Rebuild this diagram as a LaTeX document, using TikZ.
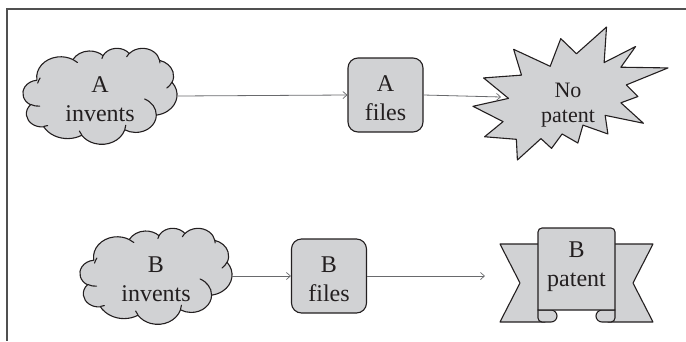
\documentclass[tikz,border=0pt]{standalone}
\usepackage{fontspec}
\setmainfont{Liberation Serif}
\usetikzlibrary{arrows.meta}
\definecolor{shfill}{RGB}{209,210,212}
\definecolor{shline}{RGB}{35,31,32}
\definecolor{arrgray}{RGB}{105,106,109}
\definecolor{framegray}{RGB}{80,80,80}
% OOXML arcTo (visual angles) -> TikZ parametric angles
\newcommand\ooarc[5]{%
  \pgfmathsetmacro\tmpA{atan2(#2*sin(#4),#3*cos(#4))}%
  \pgfmathsetmacro\tmpB{atan2(#2*sin(#4+#5),#3*cos(#4+#5))}%
  \pgfmathsetmacro\tmpD{mod(\tmpB-\tmpA+720,360)}%
  \expandafter\xdef\csname oo#1s\endcsname{\tmpA}%
  \expandafter\xdef\csname oo#1d\endcsname{\tmpD}%
}
\ooarc{A}{67.53}{91.90}{-190.4875}{123.7805}
\ooarc{B}{53.33}{72.67}{-144.1024}{89.9452}
\ooarc{C}{43.65}{59.45}{-145.8079}{99.7230}
\ooarc{D}{48.57}{65.95}{-130.9861}{117.2417}
\ooarc{E}{53.33}{72.73}{-78.7089}{109.0269}
\ooarc{F}{67.75}{92.20}{-46.2673}{130.2690}
\ooarc{G}{57.85}{78.67}{0.6250}{114.0333}
\ooarc{H}{67.52}{92.15}{22.4516}{115.1726}
\ooarc{I}{77.20}{105.43}{66.2426}{75.7110}
\ooarc{J}{43.60}{59.18}{-274.9421}{146.7356}
\ooarc{K}{43.45}{59.45}{-246.8285}{152.5189}
\ooarc{cA}{43.45}{59.45}{86.7420}{26.4295}
\ooarc{cB}{43.60}{59.18}{73.6105}{11.4475}
\ooarc{cC}{67.52}{92.15}{137.6242}{14.0811}
\ooarc{cD}{67.52}{92.15}{6.4533}{15.9984}
\ooarc{cE}{57.85}{78.67}{-70.2924}{70.9174}
\ooarc{cF}{53.33}{72.73}{30.3180}{27.7515}
\ooarc{cG}{48.57}{65.95}{-13.7443}{14.8589}
\ooarc{cH}{48.57}{65.95}{-149.1815}{18.1954}
\ooarc{cI}{43.65}{59.45}{-163.4943}{17.6864}
\ooarc{cJ}{67.53}{91.90}{-66.7070}{12.3194}
\ooarc{cK}{67.53}{91.90}{-161.1856}{18.7924}
\newcommand\cloudshape{%
  \draw[shp] (39.00,143.70)
    arc[x radius=67.53,y radius=91.90,start angle=\ooAs,delta angle=\ooAd]
    arc[x radius=53.33,y radius=72.67,start angle=\ooBs,delta angle=\ooBd]
    arc[x radius=43.65,y radius=59.45,start angle=\ooCs,delta angle=\ooCd]
    arc[x radius=48.57,y radius=65.95,start angle=\ooDs,delta angle=\ooDd]
    arc[x radius=53.33,y radius=72.73,start angle=\ooEs,delta angle=\ooEd]
    arc[x radius=67.75,y radius=92.20,start angle=\ooFs,delta angle=\ooFd]
    arc[x radius=57.85,y radius=78.67,start angle=\ooGs,delta angle=\ooGd]
    arc[x radius=67.52,y radius=92.15,start angle=\ooHs,delta angle=\ooHd]
    arc[x radius=77.20,y radius=105.43,start angle=\ooIs,delta angle=\ooId]
    arc[x radius=43.60,y radius=59.18,start angle=\ooJs,delta angle=\ooJd]
    arc[x radius=43.45,y radius=59.45,start angle=\ooKs,delta angle=\ooKd]
    -- cycle;
  \draw[crease]
    (46.93,261.77) arc[x radius=43.45,y radius=59.45,start angle=\oocAs,delta angle=\oocAd]
    (69.28,348.99) arc[x radius=43.60,y radius=59.18,start angle=\oocBs,delta angle=\oocBd]
    (164.78,390.90) arc[x radius=67.52,y radius=92.15,start angle=\oocCs,delta angle=\oocCd]
    (288.27,347.51) arc[x radius=67.52,y radius=92.15,start angle=\oocDs,delta angle=\oocDd]
    (341.29,229.54) arc[x radius=57.85,y radius=78.67,start angle=\oocEs,delta angle=\oocEd]
    (417.98,153.54) arc[x radius=53.33,y radius=72.73,start angle=\oocFs,delta angle=\oocFd]
    (383.24,54.26) arc[x radius=48.57,y radius=65.95,start angle=\oocGs,delta angle=\oocGd]
    (290.78,39.52) arc[x radius=48.57,y radius=65.95,start angle=\oocHs,delta angle=\oocHd]
    (221.41,47.20) arc[x radius=43.65,y radius=59.45,start angle=\oocIs,delta angle=\oocId]
    (140.00,51.92) arc[x radius=67.53,y radius=91.90,start angle=\oocJs,delta angle=\oocJd]
    (41.27,157.89) arc[x radius=67.53,y radius=91.90,start angle=\oocKs,delta angle=\oocKd];
}
\newcommand\twol[4]{\rule{0pt}{#1}#3\\\rule[-#2]{0pt}{#2}#4}
\tikzset{
  shp/.style={draw=shline, fill=shfill, line width=1.1pt, line join=round},
  crease/.style={draw=shline, line width=1.1pt, line cap=round},
  arr/.style={draw=arrgray, line width=0.8pt, -{Straight Barb[length=4pt,width=7pt,line width=0.7pt]}},
  txt/.style={inner sep=0pt, align=center, text=shline, font=\fontsize{24}{29}\selectfont},
  filebox/.style={shp, txt, rounded corners=10pt, minimum width=75pt, minimum height=74pt},
}
\begin{document}
\begin{tikzpicture}[x=1pt,y=-1pt]
\useasboundingbox (0,0) rectangle (686,341);
% frame
\draw[framegray, line width=2pt] (686,9) -- (6.5,9) -- (6.5,341);
% clouds
\begin{scope}[shift={(23,48)}, x=0.35648pt, y=-0.22222pt]
  \cloudshape
\end{scope}
\begin{scope}[shift={(80,228)}, x=0.35185pt, y=-0.22222pt]
  \cloudshape
\end{scope}
\node[txt, minimum width=154pt, minimum height=96pt] (cloudA) at (100,96) {\twol{29pt}{7pt}{A}{invents}};
\node[txt, minimum width=152pt, minimum height=96pt] (cloudB) at (156,276) {\twol{29pt}{7pt}{B}{invents}};
% boxes
\node[filebox] (filesA) at (385.5,95) {\twol{29pt}{7pt}{A}{files}};
\node[filebox] (filesB) at (329,276) {\twol{29pt}{7pt}{B}{files}};
% starburst
\begin{scope}[shift={(473,27)}, x=0.9028pt, y=-0.6157pt]
  \draw[shp] (114.62,43.42) -- (147.90,0) -- (145.25,57.77) -- (180.07,31.72) -- (163.80,65.32)
    -- (216,66.45) -- (169.85,94.02) -- (182.70,112.90) -- (163.80,123.10) -- (188.77,156.32)
    -- (146.40,143.50) -- (149.42,173.70) -- (121.80,159.35) -- (116.12,188.42) -- (98.72,173.70)
    -- (87.00,197.12) -- (75.27,181.25) -- (49.17,216) -- (48.05,182.40) -- (12.85,178.25)
    -- (33.30,153.70) -- (0,128.77) -- (39.35,115.92) -- (11.72,82.70) -- (53.72,78.17)
    -- (45.02,36.25) -- (85.50,63.82) -- (97.22,18.87) -- cycle;
\end{scope}
\node[txt, font=\fontsize{22}{25}\selectfont, minimum width=195pt, minimum height=133pt] (nopat) at (568,93.5) {\twol{39pt}{7pt}{No}{patent}};
% ribbon
\draw[shp] (545,244) -- (500,244) -- (520,283) -- (500,322) -- (545,322) -- cycle;
\draw[shp] (608,244) -- (653,244) -- (633,283) -- (653,322) -- (608,322) -- cycle;
\draw[shp] (538,310) -- (538,318) arc[start angle=180,end angle=90,radius=4] -- (551,322)
  arc[start angle=90,end angle=-90,radius=6] -- cycle;
\draw[shp] (615,310) -- (615,318) arc[start angle=0,end angle=90,radius=4] -- (602,322)
  arc[start angle=90,end angle=270,radius=6] -- cycle;
\draw[shp] (538,310) -- (538,232) arc[start angle=180,end angle=270,radius=4] -- (611,228)
  arc[start angle=270,end angle=360,radius=4] -- (615,310) -- cycle;
\node[txt, minimum width=153pt, minimum height=94pt] (bpat) at (576.5,275) {\twol{16pt}{23pt}{B}{patent}};
% connectors
\coordinate (endA) at (501,97);
\coordinate (endB) at (485,276);
\draw[arr] (cloudA.east) -- (filesA.west);
\draw[arr] (filesA.east) -- (endA);
\draw[arr] (cloudB.east) -- (filesB.west);
\draw[arr] (filesB.east) -- (endB);
\end{tikzpicture}
\end{document}
